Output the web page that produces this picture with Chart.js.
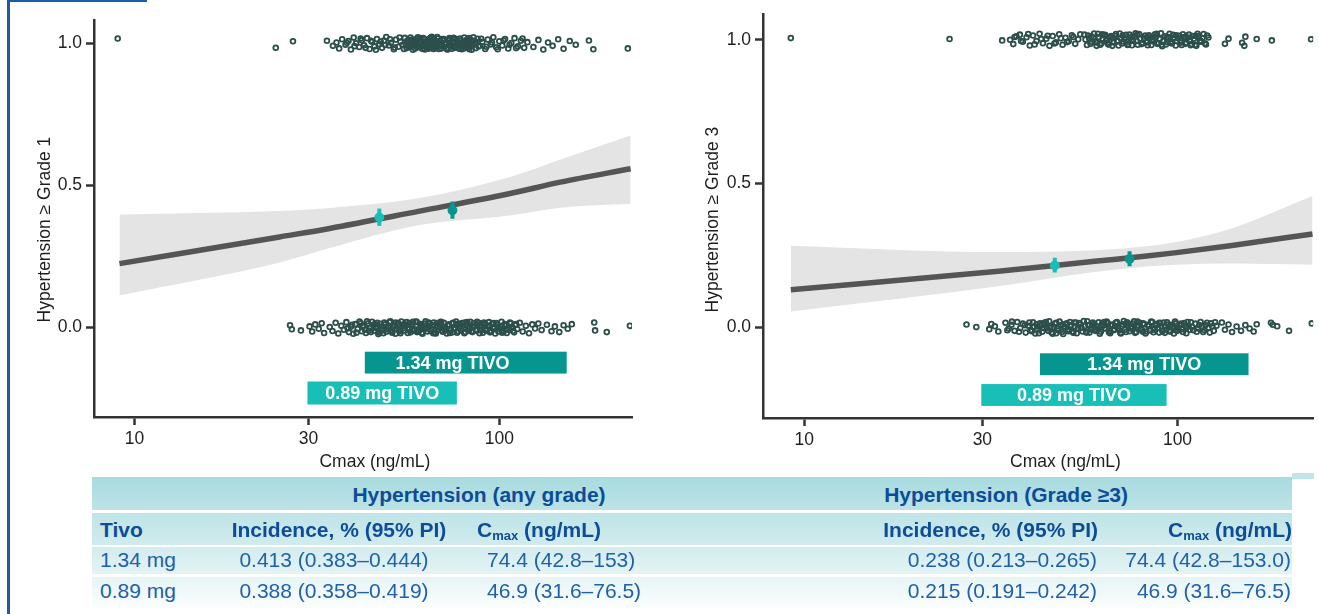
<!DOCTYPE html>
<html>
<head>
<meta charset="utf-8">
<script src="https://cdn.jsdelivr.net/npm/chart.js"></script>
<style>
  body { margin:0; width:1319px; height:614px; position:relative; overflow:hidden; background:#fff;
         font-family:"Liberation Sans", Arial, sans-serif; }
  .frameV { position:absolute; left:7px; top:0; width:3px; height:614px; background:#1b5ca8; z-index:5; }
  .frameH { position:absolute; left:7px; top:0; width:140px; height:2px; background:#1b5ca8; z-index:5; }
  #c1 { position:absolute; left:0; top:0; }
  #c3 { position:absolute; left:660px; top:0; }
  #tbl { position:absolute; left:92px; top:477px; width:1200px; height:131px;
         background:linear-gradient(#a8dbdf, #c4e6e9 35%, #e0f2f3 70%, #fbfefe); }
  .nub { position:absolute; left:1292px; top:473px; width:22px; height:6px; background:#c2e5e8; }
  .sep { position:absolute; left:0; width:1200px; height:2.5px; background:#fff; }
  .cell { position:absolute; height:30px; line-height:30px; font-size:21px; color:#2160aa; white-space:nowrap; }
  .cell.b { font-weight:bold; color:#0d4c98; }
  .cell sub { font-size:0.62em; vertical-align:-0.25em; line-height:0; }
</style>
</head>
<body>
<div class="frameV"></div><div class="frameH"></div>
<canvas id="c1" width="660" height="478"></canvas>
<canvas id="c3" width="659" height="478"></canvas>
<div class="nub"></div>
<div id="tbl">
  <div class="sep" style="top:33px"></div>
  <div class="sep" style="top:67.5px"></div>
  <div class="sep" style="top:97px"></div>
</div>
<script>
// Observed patients: [Cmax ng/mL, jittered outcome]
const g1Yes = [[9.0,1.018],[24.4,0.985],[27.2,1.008],[33.7,1.010],
  [35.0,0.992],[35.8,1.004],[36.4,0.983],[37.1,1.015],[37.9,0.996],[38.6,1.009],[39.2,0.979],[39.9,1.021],[40.5,1.001],[41.3,0.988],
  [42.0,1.012],[42.6,0.994],[43.4,1.019],[44.1,0.981],[44.8,1.006],[45.5,0.990],[46.2,1.016],[46.9,0.998],[47.7,0.985],[48.3,1.011],
  [49.0,1.023],[49.8,0.993],[50.5,1.003],[51.4,0.980],[52.1,1.014],[52.9,0.989],[53.6,1.007],[54.4,0.996],
  [38.2,1.003],[40.1,0.991],[41.7,1.018],[43.0,0.985],[44.5,1.010],[45.9,0.978],[47.3,1.007],[48.7,0.995],[50.2,1.015],[51.7,0.986],
  [53.3,1.021],[54.8,0.981],
  [55.1,1.020],[55.7,0.984],[56.3,1.002],[56.8,0.991],[57.4,1.013],[58.0,0.978],[58.5,1.008],[59.1,0.995],[59.8,1.022],[60.3,0.987],
  [60.9,1.004],[61.5,0.982],[62.2,1.016],[62.8,0.999],[63.4,0.986],[64.1,1.010],[64.7,0.993],[65.3,1.024],[66.0,0.981],[66.6,1.005],
  [67.3,0.990],[68.0,1.018],[68.6,0.997],[69.3,0.983],[70.0,1.012],[70.8,0.988],[71.5,1.003],[72.2,0.979],[73.0,1.019],[73.7,0.994],
  [74.5,1.007],[75.3,0.985],[76.0,1.015],[76.8,0.999],[77.6,0.982],[78.5,1.011],[79.3,0.991],[80.2,1.021],[81.0,0.986],[81.9,1.004],
  [82.8,0.980],[83.6,1.013],[84.5,0.995],[85.4,1.009],[86.3,0.984],[87.2,1.017],
  [55.4,0.997],[56.0,1.011],[56.6,0.987],[57.1,1.021],[57.7,0.994],[58.3,1.003],[58.8,0.983],[59.4,1.015],[60.0,0.999],[60.6,1.008],
  [61.2,0.990],[61.9,1.019],[62.5,0.979],[63.1,1.006],[63.7,0.996],[64.4,1.017],[65.0,0.985],[65.6,1.001],[66.3,1.012],[66.9,0.988],
  [67.6,1.023],[68.3,0.981],[68.9,1.009],[69.6,0.992],[70.4,1.016],[71.1,0.997],[71.8,0.984],[72.6,1.010],[73.3,1.001],[74.1,0.982],
  [74.9,1.020],[75.6,0.989],[76.4,1.006],[77.2,0.993],[78.1,1.018],[78.9,0.980],[79.7,1.002],[80.6,0.995],[81.4,1.013],[82.3,0.987],
  [83.2,1.007],[84.0,0.978],[84.9,1.022],[85.9,0.998],[86.8,1.005],[87.7,0.990],
  [58.2,1.014],[59.6,0.989],[60.8,1.019],[61.7,0.996],[62.9,1.008],[63.9,0.982],[64.9,1.021],[65.9,1.000],[66.8,0.984],[67.9,1.007],
  [68.8,0.995],[69.9,1.016],[70.7,1.002],[71.9,0.980],[72.9,1.013],[73.9,0.991],[74.8,1.003],[75.8,1.017],[76.9,0.986],[77.9,1.010],
  [78.7,0.994],[79.9,0.983],[80.9,1.008],[81.7,0.999],[82.6,1.019],[83.9,0.992],[84.7,1.001],
  [88.4,0.992],[89.9,1.006],[91.5,0.981],[93.0,1.014],[94.8,0.997],[96.3,1.022],[98.1,0.987],[100.0,1.008],[101.9,0.993],[103.7,1.016],
  [105.8,0.983],[107.9,1.002],[110.1,1.019],[112.4,0.990],[114.6,1.010],[117.0,0.985],[119.4,1.005],
  [89.2,1.017],[92.2,0.989],[95.5,1.004],[99.0,0.980],[102.8,1.011],[106.7,0.996],[111.2,0.984],[115.8,1.018],
  [124,0.988],[128,1.013],[132,0.979],[136,1.004],[140,0.992],[145,1.015],[150,0.982],[156,1.009],[162,0.996],[176,1.011],[181,0.980],[225,0.983]];
const g1No = [[26.7,0.008],[27.0,-0.006],[28.6,-0.010],[30.2,0.004],[30.7,-0.014],[31.3,0.011],[32.0,-0.004],[32.6,0.015],[33.1,-0.019],
  [34.3,0.002],[34.9,-0.012],[35.6,0.017],[36.2,-0.021],[36.9,0.006],[37.5,-0.008],
  [38.1,0.019],[38.7,-0.016],[39.2,0.003],[39.8,-0.022],[40.3,0.012],[40.9,-0.005],[41.4,0.021],[42.0,-0.013],[42.5,0.007],[43.1,-0.019],
  [43.7,0.015],[44.2,-0.002],[44.8,0.020],[45.4,-0.011],[46.0,0.005],[46.6,-0.023],[47.2,0.013],[47.8,-0.007],[48.4,0.018],[49.0,-0.015],
  [49.7,0.001],[50.3,0.022],[50.9,-0.018],[51.6,0.009],[52.2,-0.004],[52.9,0.016],[53.6,-0.020],[54.3,0.006],[55.0,-0.010],[55.7,0.019],
  [56.4,-0.001],[57.1,-0.017],[57.8,0.012],[58.6,-0.006],[59.3,0.021],[60.1,-0.014],[60.9,0.004],[61.6,-0.022],[62.4,0.014],[63.2,-0.003],
  [64.0,0.018],[64.8,-0.012],[65.7,0.008],[66.5,-0.019],[67.4,0.016],[68.2,-0.005],[69.1,0.020],[70.0,-0.015],[70.9,0.002],[71.8,-0.021],
  [72.8,0.011],[73.7,-0.008],[74.7,0.017],[75.6,-0.002],[76.6,-0.018],[77.6,0.013],[78.6,-0.010],[79.6,0.006],[80.7,-0.016],[81.7,0.019],
  [82.8,0.000],[83.9,-0.013],[85.0,0.015],[86.1,-0.007],[87.2,0.010],[88.3,-0.020],[89.5,0.004],[90.7,0.018],[91.9,-0.011],[93.1,0.007],
  [94.3,-0.017],[95.6,0.013],[96.8,-0.003],[98.1,0.016],[99.4,-0.014],[100.7,0.005],[102.0,-0.009],[103.4,0.012],[104.8,-0.019],[106.2,0.002],
  [107.6,0.015],[109.0,-0.012],[110.5,0.008],[112.0,-0.005],
  [38.4,-0.003],[39.5,0.010],[40.6,-0.018],[41.7,0.015],[42.8,-0.008],[43.4,0.022],[44.5,-0.016],[45.1,0.009],[45.7,-0.001],[46.3,0.017],
  [46.9,-0.012],[47.5,0.003],[48.1,-0.020],[48.7,0.011],[49.4,-0.006],[50.0,0.019],[50.6,-0.013],[51.3,0.002],[51.9,-0.022],[52.6,0.013],
  [53.2,-0.009],[53.9,0.021],[54.6,-0.002],[55.4,0.010],[56.1,-0.019],[56.8,0.016],[57.5,0.004],[58.2,-0.011],[58.9,0.020],[59.7,-0.008],
  [60.5,0.013],[61.3,-0.018],[62.0,0.001],[62.8,0.022],[63.6,-0.014],[64.4,0.007],[65.2,-0.004],[66.1,0.018],[67.0,-0.021],[67.8,0.005],
  [68.7,0.012],[69.6,-0.010],[70.5,0.017],[71.4,-0.003],[72.3,0.008],[73.2,-0.019],[74.2,0.014],[75.1,-0.006],[76.1,0.021],[77.1,-0.013],
  [78.1,0.003],[79.1,0.016],[80.2,-0.020],[81.2,0.009],[82.3,-0.005],[83.3,0.020],[84.4,-0.016],[85.5,0.006],[86.7,-0.011],[87.8,0.017],
  [88.9,-0.002],[90.1,-0.018],[91.3,0.013],[92.5,-0.006],[93.7,0.019],[95.0,-0.012],[96.2,0.002],[97.5,-0.021],[98.8,0.010],[100.1,-0.004],
  [101.4,0.020],[102.7,-0.015],[104.1,0.006],[105.5,-0.008],[106.9,0.018],[108.3,-0.002],[109.8,-0.017],[111.2,0.012],
  [42.2,0.004],[43.9,-0.011],[45.6,0.012],[47.0,-0.018],[48.9,0.000],[50.4,-0.010],[52.0,0.018],[53.4,-0.014],[54.8,0.011],[56.6,-0.006],
  [58.0,0.020],[59.5,-0.016],[61.1,0.009],[62.6,-0.002],[64.2,0.015],[65.9,-0.020],[67.6,0.002],[69.3,0.019],[71.0,-0.010],[72.6,0.006],
  [74.4,-0.017],[76.3,0.012],[78.3,-0.004],[80.4,0.018],[82.5,-0.012],[84.6,0.003],[86.9,0.020],[89.1,-0.009],[91.6,0.010],[94.0,-0.014],
  [96.5,0.016],[99.1,0.001],[101.8,-0.018],[104.5,0.009],
  [113.8,0.017],[115.9,-0.014],[118.2,0.006],[120.6,-0.020],[123.1,0.011],[125.3,-0.003],[127.9,0.014],[130.6,-0.009],
  [135,0.010],[139,-0.013],[142,0.004],[146,-0.016],[150,0.008],[154,-0.004],[158,0.012],[182,0.018],[183,-0.010],[197,-0.016],[228,0.006]];
const g3Yes = [[9.2,1.006],[24.5,1.003],[33.9,0.998],
  [35.6,1.000],[36.3,0.985],[37.0,1.012],[37.8,1.018],[38.5,0.993],[39.4,1.009],[40.2,0.980],[41.0,1.015],[41.9,0.996],[42.7,1.021],
  [43.6,0.988],[44.5,1.004],[45.4,0.979],[46.3,1.013],[47.2,0.991],[48.2,1.019],[49.2,0.983],[50.1,1.007],[51.1,0.995],[52.1,1.016],
  [53.2,0.986],[54.2,1.002],
  [36.6,1.010],[38.1,0.996],[39.8,1.020],[41.4,0.984],[43.1,1.003],[44.9,1.014],[46.8,0.987],[48.7,1.005],[50.6,0.992],[52.6,1.010],[54.9,1.019],
  [56.3,1.018],[57.2,0.982],[58.0,1.005],[58.9,0.993],[59.8,1.022],[60.7,0.979],[61.6,1.010],[62.5,0.988],[63.5,1.016],[64.4,0.997],
  [65.4,0.984],[66.4,1.013],[67.4,0.991],[68.4,1.020],[69.5,0.980],[70.5,1.006],[71.6,0.994],[72.7,1.017],[73.8,0.985],[74.9,1.009],
  [76.0,0.998],[77.2,1.023],[78.3,0.983],[79.5,1.004],[80.7,0.990],[81.9,1.015],[83.2,0.981],[84.4,1.008],[85.7,0.995],[87.0,1.019],
  [88.3,0.986],[89.6,1.003],[91.0,0.978],[92.4,1.012],[93.8,0.992],[95.2,1.021],[96.6,0.987],[98.1,1.007],[99.6,0.996],[101.1,1.014],
  [102.6,0.982],[104.2,1.010],[105.7,0.990],[107.3,1.018],[109.0,0.985],[110.6,1.004],[112.3,0.979],[114.0,1.013],[115.7,0.994],
  [117.5,1.020],[119.2,0.984],[121.0,1.008],
  [56.7,1.001],[57.6,1.015],[58.5,0.986],[59.4,1.008],[60.3,0.995],[61.2,1.021],[62.1,0.983],[63.0,1.004],[64.0,1.017],[64.9,0.990],
  [65.9,1.009],[66.9,0.979],[67.9,1.014],[68.9,0.997],[70.0,1.022],[71.0,0.987],[72.1,1.003],[73.2,0.993],[74.3,1.018],[75.5,0.981],
  [76.6,1.011],[77.8,0.996],[78.9,1.020],[80.1,0.985],[81.3,1.006],[82.6,0.991],[83.8,1.016],[85.1,0.982],[86.4,1.001],[87.7,1.012],
  [89.0,0.989],[90.3,1.023],[91.7,0.997],[93.1,0.984],[94.5,1.010],[95.9,0.994],[97.4,1.017],[98.9,0.980],[100.4,1.005],[101.9,0.990],
  [103.4,1.019],[105.0,0.986],[106.5,1.008],[108.1,0.995],[109.8,1.013],[111.5,0.983],[113.2,1.021],[114.9,0.998],[116.6,1.006],
  [118.4,0.988],[120.1,1.015],
  [58.7,1.012],[60.9,0.990],[62.9,1.019],[65.1,0.985],[67.1,1.006],[69.2,0.994],[71.3,1.015],[73.5,0.982],[75.7,1.003],[78.0,1.018],
  [80.4,0.988],[82.9,1.010],[85.4,0.997],[88.0,1.021],[90.6,0.983],[93.4,1.007],[96.2,0.991],[99.2,1.016],[102.2,0.996],[105.3,1.009],
  [108.5,0.981],[111.8,1.014],[115.2,0.993],
  [134,0.986],[137,1.004],[149,0.990],[151,0.979],[152,1.011],[163,1.003],[179,0.998],[228,1.002]];
const g3No = [[27.2,0.010],[28.9,0.001],[31.3,-0.006],[31.7,0.012],[32.4,0.004],[33.1,-0.014],
  [34.6,0.016],[35.3,-0.004],[35.9,0.009],[36.6,-0.012],[37.2,0.019],[37.9,-0.002],[38.5,0.013],[39.2,-0.018],
  [35.0,-0.010],[36.0,0.020],[37.6,-0.015],[39.0,0.008],
  [39.8,0.006],[40.4,-0.009],[41.0,0.018],[41.6,-0.021],[42.2,0.003],[42.8,0.014],[43.4,-0.015],[44.0,0.009],[44.7,-0.004],[45.3,0.021],
  [46.0,-0.018],[46.6,0.001],[47.3,0.016],[48.0,-0.011],[48.7,0.007],[49.4,-0.023],[50.1,0.012],[50.8,-0.006],[51.5,0.019],[52.2,-0.014],
  [53.0,0.004],[53.7,-0.020],[54.5,0.015],[55.3,-0.001],[56.1,0.022],[56.9,-0.016],[57.7,0.008],[58.5,-0.007],[59.3,0.017],[60.2,-0.012],
  [61.0,0.003],[61.9,-0.022],[62.8,0.013],[63.7,-0.004],[64.6,0.020],[65.5,-0.017],[66.4,0.006],[67.4,-0.010],[68.3,0.016],[69.3,-0.002],
  [70.3,-0.019],[71.3,0.011],[72.3,-0.008],[73.3,0.018],[74.4,-0.013],[75.4,0.002],[76.5,0.021],[77.6,-0.016],[78.7,0.007],[79.8,-0.005],
  [80.9,0.014],[82.1,-0.021],[83.2,0.009],[84.4,-0.011],[85.6,0.019],[86.8,-0.003],[88.0,0.012],[89.3,-0.018],[90.5,0.004],[91.8,0.017],
  [93.1,-0.009],[94.4,0.010],[95.7,-0.015],[97.1,0.002],[98.5,0.020],[99.9,-0.012],[101.3,0.007],[102.7,-0.006],[104.2,0.015],[105.6,-0.020],
  [107.1,0.005],[108.6,0.018],[110.2,-0.010],
  [40.1,0.017],[40.7,-0.013],[41.3,0.002],[41.9,0.011],[42.5,-0.020],[43.1,0.007],[43.7,-0.002],[44.4,0.019],[45.0,-0.012],[45.7,0.004],
  [46.3,-0.022],[47.0,0.013],[47.6,-0.005],[48.3,0.020],[49.0,-0.016],[49.8,0.003],[50.5,0.014],[51.2,-0.009],[51.9,0.008],[52.6,-0.019],
  [53.4,0.017],[54.1,-0.003],[54.9,0.010],[55.7,-0.014],[56.5,0.005],[57.3,0.021],[58.1,-0.018],[58.9,0.001],[59.8,0.012],[60.6,-0.007],
  [61.5,0.018],[62.3,-0.015],[63.2,0.006],[64.1,-0.003],[65.0,0.015],[66.0,-0.020],[66.9,0.010],[67.8,-0.006],[68.8,0.019],[69.8,-0.011],
  [70.8,0.004],[71.8,0.022],[72.8,-0.016],[73.8,0.008],[74.9,-0.004],[75.9,0.013],[77.0,-0.019],[78.1,0.002],[79.2,0.016],[80.3,-0.009],
  [81.5,0.011],[82.6,-0.014],[83.8,0.005],[85.0,0.020],[86.2,-0.017],[87.4,0.007],[88.6,-0.002],[89.9,0.015],[91.1,-0.013],[92.4,0.003],
  [93.7,0.018],[95.1,-0.010],[96.4,0.009],[97.8,-0.021],[99.2,0.014],[100.6,-0.003],[102.0,0.011],[103.5,-0.016],[104.9,0.006],
  [106.4,0.019],[107.9,-0.008],[109.4,0.002],
  [42.0,-0.007],[43.8,0.015],[45.5,-0.001],[47.3,-0.020],[49.2,0.010],[51.0,-0.013],[52.9,0.017],[55.0,0.000],[57.0,-0.018],[59.1,0.008],
  [61.3,-0.005],[63.6,0.019],[65.8,-0.012],[68.1,0.004],[70.5,-0.021],[72.9,0.014],[75.5,-0.003],[78.1,0.020],[80.8,-0.015],[83.6,0.007],
  [86.4,-0.008],[89.4,0.016],[92.5,-0.019],[95.6,0.005],[98.9,-0.010],[102.3,0.013],[105.8,-0.001],
  [111.8,0.013],[113.5,-0.004],[115.3,0.019],[117.2,-0.016],[119.0,0.008],[121.0,-0.001],[123.0,0.014],[125.1,-0.012],[127.2,0.006],
  [112.6,-0.015],[114.4,0.008],[116.2,0.002],[118.1,-0.009],[120.0,0.016],[122.0,-0.018],[124.0,0.004],[126.1,0.018],
  [131.5,0.017],[134,-0.008],[137,0.010],[140,-0.016],[144,0.003],[148,-0.012],[152,0.008],[156,-0.004],[160,-0.014],[163,0.011],
  [178,0.016],[180,0.009],[185,0.004],[199,-0.012],[229,0.014]];

// Logistic fit and 95% band
const g1CurveX = [9.1, 25, 34.3, 60, 107, 147, 229];
const g1Fit    = [0.225, 0.319, 0.349, 0.409, 0.472, 0.512, 0.559];
const g1Upper  = [0.398, 0.410, 0.421, 0.455, 0.530, 0.592, 0.676];
const g1Lower  = [0.113, 0.229, 0.280, 0.360, 0.395, 0.422, 0.436];
const g3CurveX = [9.2, 33.1, 60, 82.7, 99.4, 140, 230];
const g3Fit    = [0.131, 0.195, 0.230, 0.248, 0.260, 0.285, 0.325];
const g3Upper  = [0.284, 0.262, 0.268, 0.282, 0.297, 0.345, 0.457];
const g3Lower  = [0.055, 0.143, 0.193, 0.212, 0.218, 0.222, 0.218];

// Dose groups
const doses = ['1.34 mg', '0.89 mg'];
const cmaxMedian = [74.4, 46.9];
const cmaxLo = [42.8, 31.6];
const cmaxHi = [153, 76.5];
const g1Inc = [0.413, 0.388];
const g1Lo  = [0.383, 0.358];
const g1Hi  = [0.444, 0.419];
const g3Inc = [0.238, 0.215];
const g3Lo  = [0.213, 0.191];
const g3Hi  = [0.265, 0.242];
// exposure bars as drawn under each panel
const g1TagFrom = [42.8, 29.8];
const g1TagTo   = [153, 76.5];
const g3TagFrom = [42.8, 29.8];
const g3TagTo   = [155, 93.5];

const xTicks = [10, 30, 100];
const yTicks = [0, 0.5, 1];
const doseColors = ['#06958f', '#17bfb7'];

const FONT = '"Liberation Sans", Arial, sans-serif';
Chart.defaults.font.family = FONT;
Chart.defaults.font.size = 17.5;
Chart.defaults.color = '#1e1e1e';

const pts = arr => arr.map(([x, y]) => ({x, y}));
const curve = (xs, ys) => xs.map((x, i) => ({x, y: ys[i]}));

// tag bars for dose ranges, plus axis titles placed where the original has them
const tagPlugin = {
  id: 'tags',
  afterDatasetsDraw(chart, args, opts) {
    const {ctx, scales: {x, y}} = chart;
    ctx.save();
    opts.items.forEach(t => {
      const x0 = x.getPixelForValue(t.from), x1 = x.getPixelForValue(t.to);
      const y0 = y.getPixelForValue(t.top), y1 = y.getPixelForValue(t.bottom);
      ctx.fillStyle = t.color;
      ctx.fillRect(x0, y0, x1 - x0, y1 - y0);
      ctx.fillStyle = '#fff';
      ctx.font = 'bold 18px ' + FONT;
      ctx.textAlign = 'center';
      ctx.textBaseline = 'middle';
      const tx = t.textAt ? x.getPixelForValue(t.textAt) : (x0 + x1) / 2;
      ctx.fillText(t.label, tx, (y0 + y1) / 2 + 1);
    });
    ctx.font = '17.5px ' + FONT;
    ctx.fillStyle = '#1e1e1e';
    ctx.textAlign = 'center';
    ctx.textBaseline = 'middle';
    ctx.fillText(opts.xTitle, x.getPixelForValue(opts.xTitleAt), x.bottom - 16);
    ctx.translate(opts.yTitleX, y.getPixelForValue(opts.yTitleAt));
    ctx.rotate(-Math.PI / 2);
    ctx.fillText(opts.yTitle, 0, 0);
    ctx.restore();
  }
};

function makeChart(id, o) {
  const datasets = [];
  doses.forEach((d, i) => {
    datasets.push({data: [{x: cmaxMedian[i], y: o.lo[i]}, {x: cmaxMedian[i], y: o.hi[i]}],
      showLine: true, borderColor: doseColors[i], borderWidth: 4, pointRadius: 0, order: 0});
    datasets.push({data: [{x: cmaxMedian[i], y: o.inc[i]}], pointRadius: 4.9, borderWidth: 0,
      backgroundColor: doseColors[i], order: 0});
  });
  datasets.push({data: curve(o.cx, o.fit), showLine: true, borderColor: '#555555', borderWidth: 5.5,
    pointRadius: 0, cubicInterpolationMode: 'monotone', order: 1});
  datasets.push({data: curve(o.cx, o.up), showLine: true, borderWidth: 0, pointRadius: 0,
    cubicInterpolationMode: 'monotone', fill: '+1', backgroundColor: '#e4e4e4', order: 2});
  datasets.push({data: curve(o.cx, o.low), showLine: true, borderWidth: 0, pointRadius: 0,
    cubicInterpolationMode: 'monotone', fill: false, order: 2});
  [o.yes, o.no].forEach(s => datasets.push({data: pts(s), pointRadius: 2.4, pointBorderWidth: 1.8,
    pointBorderColor: '#2c4f4b', pointBackgroundColor: 'rgba(255,255,255,0)', order: 3}));

  return new Chart(document.getElementById(id), {
    type: 'scatter',
    data: {datasets},
    options: {
      responsive: false, animation: false,
      layout: {padding: {top: o.padTop, right: o.padRight, left: 0, bottom: 0}},
      plugins: {legend: {display: false}, tooltip: {enabled: false},
        tags: {items: o.tags, xTitle: 'Cmax (ng/mL)', xTitleAt: o.xTitleAt,
               yTitle: o.yTitle, yTitleAt: o.yTitleAt, yTitleX: o.yTitleX}},
      scales: {
        x: {type: 'logarithmic', min: 7.75, max: 231,
          afterBuildTicks: s => { s.ticks = xTicks.map(v => ({value: v})); },
          afterFit: s => { s.height = o.xH; },
          ticks: {callback: v => String(v), padding: 4, color: '#1e1e1e'},
          grid: {drawOnChartArea: false, drawTicks: true, tickLength: 8, tickWidth: 2.5, tickColor: '#333'},
          border: {display: true, color: '#333', width: 2.5}},
        y: {min: -0.315, max: o.yMax,
          afterBuildTicks: s => { s.ticks = yTicks.map(v => ({value: v})); },
          afterFit: s => { s.width = o.yW; },
          ticks: {callback: v => v.toFixed(1), padding: 4, color: '#1e1e1e'},
          grid: {drawOnChartArea: false, drawTicks: true, tickLength: 8, tickWidth: 2.5, tickColor: '#333'},
          border: {display: true, color: '#333', width: 2.5}}
      }
    },
    plugins: [tagPlugin]
  });
}

makeChart('c1', {
  yes: g1Yes, no: g1No, cx: g1CurveX, fit: g1Fit, up: g1Upper, low: g1Lower,
  inc: g1Inc, lo: g1Lo, hi: g1Hi, yTitle: 'Hypertension ≥ Grade 1', xTitleAt: 45.6,
  yTitleAt: 0.345, yTitleX: 45,
  padTop: 20, padRight: 28, xH: 61, yW: 94, yMax: 1.083,
  tags: [
    {label: '1.34 mg TIVO', from: g1TagFrom[0], to: g1TagTo[0], textAt: cmaxMedian[0], top: -0.085, bottom: -0.162, color: doseColors[0]},
    {label: '0.89 mg TIVO', from: g1TagFrom[1], to: g1TagTo[1], top: -0.190, bottom: -0.271, color: doseColors[1]}
  ]
});
makeChart('c3', {
  yes: g3Yes, no: g3No, cx: g3CurveX, fit: g3Fit, up: g3Upper, low: g3Lower,
  inc: g3Inc, lo: g3Lo, hi: g3Hi, yTitle: 'Hypertension ≥ Grade 3', xTitleAt: 50.1,
  yTitleAt: 0.375, yTitleX: 53,
  padTop: 13, padRight: 0, xH: 60, yW: 103, yMax: 1.088,
  tags: [
    {label: '1.34 mg TIVO', from: g3TagFrom[0], to: g3TagTo[0], top: -0.090, bottom: -0.166, color: doseColors[0]},
    {label: '0.89 mg TIVO', from: g3TagFrom[1], to: g3TagTo[1], top: -0.197, bottom: -0.273, color: doseColors[1]}
  ]
});

// Summary table
const CMAX = 'C<sub>max</sub> (ng/mL)';
function cell(html, x, yc, align, bold) {
  const el = document.createElement('div');
  el.className = 'cell' + (bold ? ' b' : '');
  el.innerHTML = html;
  el.style.top = (yc - 15) + 'px';
  if (align === 'left') { el.style.left = x + 'px'; }
  else if (align === 'center') { el.style.left = (x - 250) + 'px'; el.style.width = '500px'; el.style.textAlign = 'center'; }
  else { el.style.left = (x - 500) + 'px'; el.style.width = '500px'; el.style.textAlign = 'right'; }
  document.body.appendChild(el);
}
const fmt3 = v => v.toFixed(3);
cell('Hypertension (any grade)', 479, 495, 'center', true);
cell('Hypertension (Grade ≥3)', 1006, 495, 'center', true);
cell('Tivo', 100, 530, 'left', true);
cell('Incidence, % (95% PI)', 339, 530, 'center', true);
cell(CMAX, 477, 530, 'left', true);
cell('Incidence, % (95% PI)', 1098, 530, 'right', true);
cell(CMAX, 1292, 530, 'right', true);
const rowY = [560, 591];
doses.forEach((d, i) => {
  const y = rowY[i];
  cell(d, 100, y, 'left');
  cell(`${fmt3(g1Inc[i])} (${fmt3(g1Lo[i])}–${fmt3(g1Hi[i])})`, 334, y, 'center');
  cell(`${cmaxMedian[i]} (${cmaxLo[i]}–${cmaxHi[i]})`, 487, y, 'left');
  cell(`${fmt3(g3Inc[i])} (${fmt3(g3Lo[i])}–${fmt3(g3Hi[i])})`, 1097, y, 'right');
  cell(`${cmaxMedian[i].toFixed(1)} (${cmaxLo[i].toFixed(1)}–${cmaxHi[i].toFixed(1)})`, 1291, y, 'right');
});
</script>
</body>
</html>
